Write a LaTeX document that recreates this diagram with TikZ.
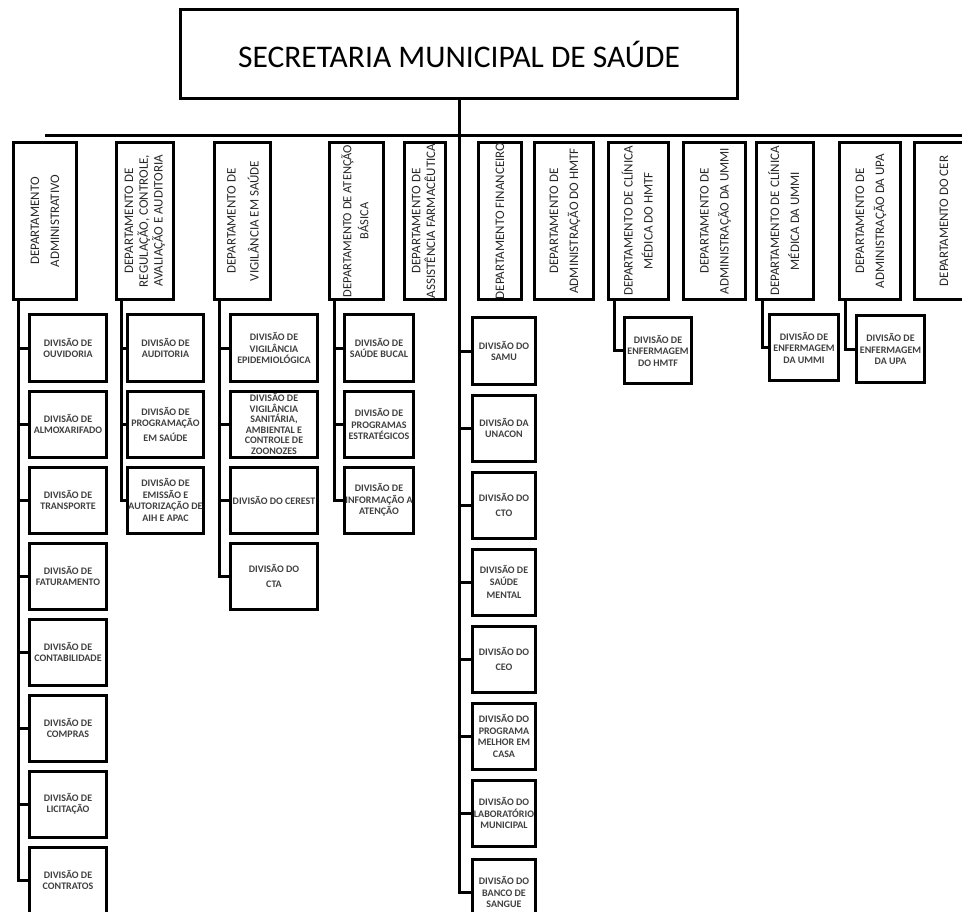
\documentclass[tikz,border=0pt]{standalone}
\usepackage{fontspec}
\setmainfont{Carlito}
\usepackage{graphicx}
\usepackage{tikz}
\usetikzlibrary{positioning}

\newcommand{\dtx}[1]{\rotatebox{90}{\makebox[150pt]{\begin{tabular}{@{}c@{}}#1\end{tabular}}}}
\newcommand{\justo}[1]{\makebox[50pt]{#1}}

\begin{document}
\begin{tikzpicture}[x=1pt,y=-1pt,node distance=7pt,
	caixa/.style={draw, line width=3pt, inner sep=0pt},
	sec/.style={caixa, minimum width=557pt, minimum height=89pt, font=\fontsize{31.5}{36}\selectfont},
	dep/.style={caixa, minimum height=157pt, font=\fontsize{13}{20}\selectfont, text=black!85},
	div/.style={caixa, minimum width=#1, minimum height=66pt, inner sep=1pt, align=center, font=\fontsize{10}{11.5}\selectfont\bfseries, text=black!75},
	liga/.style={line width=3pt}]
	\path[use as bounding box, clip] (0,0) rectangle (962,912);
	
	\node[sec] (sms) at (459,54) {SECRETARIA MUNICIPAL DE SAÚDE};
	
	% departamentos
	\node[dep, minimum width=63pt] (d1) at (45,221) {\dtx{DEPARTAMENTO\\ADMINISTRATIVO}};
	\node[dep, minimum width=57pt, font=\fontsize{13}{14.5}\selectfont] (d2) at (145,221) {\dtx{DEPARTAMENTO DE\\REGULAÇÃO, CONTROLE,\\AVALIAÇÃO E AUDITORIA}};
	\node[dep, minimum width=56pt, font=\fontsize{13}{23}\selectfont] (d3) at (242.5,221) {\dtx{DEPARTAMENTO DE\\VIGILÂNCIA EM SAÚDE}};
	\node[dep, minimum width=54pt, font=\fontsize{12.5}{17}\selectfont] (d4) at (356.5,221) {\dtx{DEPARTAMENTO DE ATENÇÃO\\BÁSICA}};
	\node[dep, minimum width=41pt, font=\fontsize{13}{14}\selectfont] (d5) at (425,221) {\dtx{DEPARTAMENTO DE\\ASSISTÊNCIA FARMACÊUTICA}};
	\node[dep, minimum width=43pt] (d6) at (500,221) {\dtx{DEPARTAMENTO FINANCEIRO}};
	\node[dep, minimum width=59pt] (d7) at (564,221) {\dtx{DEPARTAMENTO DE\\ADMINISTRAÇÃO DO HMTF}};
	\node[dep, minimum width=60pt] (d8) at (638.5,221) {\dtx{DEPARTAMENTO DE CLÍNICA\\MÉDICA DO HMTF}};
	\node[dep, minimum width=62pt] (d9) at (714.5,221) {\dtx{DEPARTAMENTO DE\\ADMINISTRAÇÃO DA UMMI}};
	\node[dep, minimum width=57pt] (d10) at (785,221) {\dtx{DEPARTAMENTO DE CLÍNICA\\MÉDICA DA UMMI}};
	\node[dep, minimum width=61pt] (d11) at (870,221) {\dtx{DEPARTAMENTO DE\\ADMINISTRAÇÃO DA UPA}};
	\node[dep, minimum width=59pt] (d12) at (944,221) {\dtx{DEPARTAMENTO DO CER}};
	
	% divisoes
	\node[div=77pt] (adm1) at (68,348) {DIVISÃO DE\\OUVIDORIA};
	\node[div=77pt, below=of adm1] (adm2) {DIVISÃO DE\\ALMOXARIFADO};
	\node[div=77pt, below=of adm2] (adm3) {DIVISÃO DE\\TRANSPORTE};
	\node[div=77pt, below=of adm3] (adm4) {DIVISÃO DE\\FATURAMENTO};
	\node[div=77pt, below=of adm4] (adm5) {DIVISÃO DE\\CONTABILIDADE};
	\node[div=77pt, below=of adm5] (adm6) {DIVISÃO DE\\COMPRAS};
	\node[div=77pt, below=of adm6] (adm7) {DIVISÃO DE\\LICITAÇÃO};
	\node[div=77pt, below=of adm7] (adm8) {DIVISÃO DE\\CONTRATOS};
	
	\node[div=76pt] (reg1) at (165.5,348) {DIVISÃO DE\\AUDITORIA};
	\node[div=76pt, below=of reg1] (reg2) {DIVISÃO DE\\PROGRAMAÇÃO\\[3pt]EM SAÚDE};
	\node[div=76pt, below=of reg2] (reg3) {DIVISÃO DE\\EMISSÃO E\\\justo{AUTORIZAÇÃO DE}\\AIH E APAC};
	
	\node[div=87pt] (vig1) at (274,348) {DIVISÃO DE\\VIGILÂNCIA\\EPIDEMIOLÓGICA};
	\node[div=87pt, below=of vig1, font=\fontsize{10}{10.6}\selectfont\bfseries] (vig2) {DIVISÃO DE\\VIGILÂNCIA\\SANITÁRIA,\\AMBIENTAL E\\CONTROLE DE\\ZOONOZES};
	\node[div=87pt, below=of vig2] (vig3) {DIVISÃO DO CEREST};
	\node[div=87pt, below=of vig3] (vig4) {DIVISÃO DO\\[4pt]CTA};
	
	\node[div=69pt] (ab1) at (379,348) {DIVISÃO DE\\SAÚDE BUCAL};
	\node[div=69pt, below=of ab1] (ab2) {DIVISÃO DE\\PROGRAMAS\\\justo{ESTRATÉGICOS}};
	\node[div=69pt, below=of ab2] (ab3) {DIVISÃO DE\\\justo{INFORMAÇÃO A}\\ATENÇÃO};
	
	\node[div=63pt] (fin1) at (504,351) {DIVISÃO DO\\SAMU};
	\node[div=63pt, below=8pt of fin1] (fin2) {DIVISÃO DA\\UNACON};
	\node[div=63pt, below=8pt of fin2] (fin3) {DIVISÃO DO\\[4pt]CTO};
	\node[div=63pt, below=8pt of fin3] (fin4) {DIVISÃO DE\\SAÚDE\\[2pt]MENTAL};
	\node[div=63pt, below=8pt of fin4] (fin5) {DIVISÃO DO\\[4pt]CEO};
	\node[div=63pt, below=8pt of fin5] (fin6) {DIVISÃO DO\\PROGRAMA\\MELHOR EM\\CASA};
	\node[div=63pt, below=8pt of fin6] (fin7) {DIVISÃO DO\\\justo{LABORATÓRIO}\\MUNICIPAL};
	\node[div=63pt, below=10pt of fin7] (fin8) {DIVISÃO DO\\BANCO DE\\SANGUE};
	
	\node[div=67pt] (enf1) at (658,350.5) {DIVISÃO DE\\ENFERMAGEM\\DO HMTF};
	\node[div=69pt] (enf2) at (804,347.5) {DIVISÃO DE\\ENFERMAGEM\\DA UMMI};
	\node[div=68pt] (enf3) at (890.5,349) {DIVISÃO DE\\ENFERMAGEM\\DA UPA};
	
	% ligacoes
	\draw[liga] ([yshift=5pt]d1.north) -- ([yshift=5pt]d12.north east);
	\foreach \i in {1,...,8} \draw[liga] (sms.south) |- (fin\i.west);
	\foreach \i in {1,...,8} \draw[liga] ([xshift=6pt]d1.south west) |- (adm\i.west);
	\foreach \i in {1,2,3} \draw[liga] ([xshift=6pt]d2.south west) |- (reg\i.west);
	\foreach \i in {1,...,4} \draw[liga] ([xshift=6pt]d3.south west) |- (vig\i.west);
	\foreach \i in {1,2,3} \draw[liga] ([xshift=6pt]d4.south west) |- (ab\i.west);
	\draw[liga] ([xshift=7pt]d8.south west) |- (enf1.west);
	\draw[liga] ([xshift=7pt]d10.south west) |- (enf2.west);
	\draw[liga] ([xshift=7pt]d11.south west) |- (enf3.west);
\end{tikzpicture}
\end{document}
